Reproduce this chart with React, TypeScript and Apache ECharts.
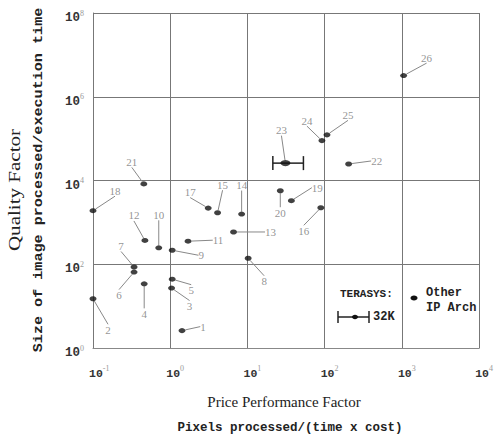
import React, { useEffect, useRef } from "react";
import * as echarts from "echarts";

// Other image-processing architectures (id, price-performance factor, quality factor)
const otherIds = ["1","2","3","4","5","6","7","8","9","10","11","12","13","14","15","16","17","18","19","20","21","22","24","25","26"];
const otherPrice = [1.42, 0.1, 1.04, 0.46, 1.06, 0.34, 0.34, 10.2, 1.06, 0.71, 1.7, 0.47, 6.6, 8.4, 4.1, 89, 3.1, 0.1, 37, 26.6, 0.455, 204, 92, 107, 1050];
const otherQuality = [2.6, 15, 27, 34, 44, 65, 86, 139, 216, 247, 355, 370, 590, 1580, 1700, 2230, 2190, 1900, 3300, 5700, 8300, 24800, 89600, 123000, 3200000];

// TERASYS (32K) with its price-performance range
const terasysId = ["23"];
const terasysPrice = [31];
const terasysQuality = [26000];
const terasysPriceLow = [21.3];
const terasysPriceHigh = [53];

// tick exponents
const xTickExps = [-1, 0, 1, 2, 3, 4];
const yTickExps = [0, 2, 4, 6, 8];

// label offsets (layout only)
const otherLabelOffsets: number[][] = [
  [21, -4], [15, 31], [18, 18], [0, 30], [19, 11], [-15, 23], [-13, -21], [16, 23], [29, 5], [0, -33],
  [30, -1], [-11, -25], [37, 0], [0, -29], [5, -28], [-17, 23], [-18, -16], [22, -20], [26, -13], [0, 22],
  [-12, -22], [28, -3], [-15, -20], [21, -20], [23, -18],
];
const terasysLabelOffsets: number[][] = [[-4, -33]];

const SERIF = "'Liberation Serif', 'DejaVu Serif', serif";
const MONO = "'Liberation Mono', 'DejaVu Sans Mono', monospace";

const expOf = (v: number) => Math.round(Math.log10(v));

export default function App() {
  const ref = useRef<HTMLDivElement>(null);
  useEffect(() => {
    if (!ref.current) return;
    const chart = echarts.init(ref.current, undefined, { renderer: "svg" });
    const tickRich = {
      b: { fontFamily: MONO, fontWeight: "bold", fontSize: 11.5, color: "#333", lineHeight: 18, verticalAlign: "middle" },
      s: { fontFamily: SERIF, fontSize: 8, color: "#999", verticalAlign: "top", lineHeight: 18 },
    };
    const labelCommon = {
      show: true,
      position: "inside",
      fontFamily: SERIF,
      fontSize: 11,
      color: "#777",
    };
    const option: any = {
      animation: false,
      backgroundColor: "#fff",
      grid: { left: 93, right: 12, top: 13, bottom: 90, show: false },
      xAxis: {
        type: "log",
        logBase: 10,
        min: Math.pow(10, xTickExps[0]),
        max: Math.pow(10, xTickExps[xTickExps.length - 1]),
        interval: 1,
        axisLine: { show: true, lineStyle: { color: "#888", width: 1 } },
        axisTick: { show: false },
        splitLine: { show: true, lineStyle: { color: "#777", width: 1 } },
        axisLabel: {
          margin: 16,
          align: "left",
          padding: [0, 0, 0, -4],
          formatter: (v: number) => `{b|10}{s|${expOf(v)}}`,
          rich: tickRich,
        },
      },
      yAxis: {
        type: "log",
        logBase: 10,
        min: Math.pow(10, yTickExps[0]),
        max: Math.pow(10, yTickExps[yTickExps.length - 1]),
        interval: 2,
        axisLine: { show: true, lineStyle: { color: "#777", width: 1 } },
        axisTick: { show: false },
        splitLine: { show: true, lineStyle: { color: "#777", width: 1 } },
        axisLabel: {
          margin: 9,
          padding: [10, 0, 0, 0],
          formatter: (v: number) => `{b|10}{s|${expOf(v)}}`,
          rich: {
            b: { ...tickRich.b, fontSize: 12.5 },
            s: tickRich.s,
          },
        },
      },
      series: [
        {
          name: "Other IP Arch",
          type: "scatter",
          clip: false,
          symbol: "circle",
          symbolSize: [7, 5],
          itemStyle: { color: "#111" },
          data: otherPrice.map((x, i) => ({ value: [x, otherQuality[i]], name: otherIds[i] })),
          label: { ...labelCommon, formatter: (p: any) => p.name },
          labelLine: { show: true, lineStyle: { color: "#888", width: 1 } },
          labelLayout: (p: any) => ({ dx: otherLabelOffsets[p.dataIndex][0], dy: otherLabelOffsets[p.dataIndex][1] }),
        },
        {
          name: "TERASYS range",
          type: "custom",
          clip: false,
          data: terasysPrice.map((x, i) => [x, terasysQuality[i], terasysPriceLow[i], terasysPriceHigh[i]]),
          encode: { x: [0, 2, 3], y: 1 },
          renderItem: (params: any, api: any) => {
            const lo = api.coord([api.value(2), api.value(1)]);
            const hi = api.coord([api.value(3), api.value(1)]);
            const st = { stroke: "#222", lineWidth: 1.5 };
            return {
              type: "group",
              children: [
                { type: "line", shape: { x1: lo[0], y1: lo[1], x2: hi[0], y2: hi[1] }, style: st },
                { type: "line", shape: { x1: lo[0], y1: lo[1] - 7, x2: lo[0], y2: lo[1] + 7 }, style: st },
                { type: "line", shape: { x1: hi[0], y1: hi[1] - 7, x2: hi[0], y2: hi[1] + 7 }, style: st },
              ],
            };
          },
        },
        {
          name: "TERASYS",
          type: "scatter",
          clip: false,
          symbol: "circle",
          symbolSize: [10, 6],
          itemStyle: { color: "#111" },
          data: terasysPrice.map((x, i) => ({ value: [x, terasysQuality[i]], name: terasysId[i] })),
          label: { ...labelCommon, formatter: (p: any) => p.name },
          labelLine: { show: true, lineStyle: { color: "#888", width: 1 } },
          labelLayout: (p: any) => ({ dx: terasysLabelOffsets[p.dataIndex][0], dy: terasysLabelOffsets[p.dataIndex][1] }),
        },
      ],
      graphic: [
        // axis titles
        {
          type: "text", x: 284, y: 402,
          style: { text: "Price Performance Factor", font: `15px ${SERIF}`, fill: "#222", align: "center", verticalAlign: "middle", textAlign: "center", textVerticalAlign: "middle" },
        },
        {
          type: "text", x: 290, y: 428,
          style: { text: "Pixels processed/(time x cost)", font: `bold 12.5px ${MONO}`, fill: "#222", align: "center", verticalAlign: "middle", textAlign: "center", textVerticalAlign: "middle" },
        },
        {
          type: "text", x: 14, y: 190, rotation: Math.PI / 2, scaleX: 1.24,
          style: { text: "Quality Factor", font: `17px ${SERIF}`, fill: "#222", align: "center", verticalAlign: "middle", textAlign: "center", textVerticalAlign: "middle" },
        },
        {
          type: "text", x: 38.5, y: 180, rotation: Math.PI / 2, scaleX: 1.21,
          style: { text: "Size of image processed/execution time", font: `bold 12.5px ${MONO}`, fill: "#222", align: "center", verticalAlign: "middle", textAlign: "center", textVerticalAlign: "middle" },
        },
        // legend
        {
          type: "text", x: 340, y: 294,
          style: { text: "TERASYS:", font: `bold 11px ${MONO}`, fill: "#222", align: "left", verticalAlign: "middle", textAlign: "left", textVerticalAlign: "middle" },
        },
        { type: "line", shape: { x1: 338, y1: 317, x2: 369, y2: 317 }, style: { stroke: "#222", lineWidth: 1.5 } },
        { type: "line", shape: { x1: 338, y1: 311, x2: 338, y2: 323 }, style: { stroke: "#222", lineWidth: 1.5 } },
        { type: "line", shape: { x1: 369, y1: 311, x2: 369, y2: 323 }, style: { stroke: "#222", lineWidth: 1.5 } },
        { type: "ellipse", shape: { cx: 355, cy: 317, rx: 3, ry: 2.2 }, style: { fill: "#111" } },
        {
          type: "text", x: 373, y: 317,
          style: { text: "32K", font: `bold 12px ${MONO}`, fill: "#222", align: "left", verticalAlign: "middle", textAlign: "left", textVerticalAlign: "middle" },
        },
        { type: "ellipse", shape: { cx: 414, cy: 298, rx: 3.5, ry: 2.5 }, style: { fill: "#111" } },
        {
          type: "text", x: 426, y: 293,
          style: { text: "Other", font: `bold 12px ${MONO}`, fill: "#222", align: "left", verticalAlign: "middle", textAlign: "left", textVerticalAlign: "middle" },
        },
        {
          type: "text", x: 426, y: 308,
          style: { text: "IP Arch", font: `bold 12px ${MONO}`, fill: "#222", align: "left", verticalAlign: "middle", textAlign: "left", textVerticalAlign: "middle" },
        },
      ],
    };
    chart.setOption(option);
    return () => chart.dispose();
  }, []);
  return <div ref={ref} style={{ width: 496, height: 438, position: "absolute", left: 0, top: 0 }} />;
}
